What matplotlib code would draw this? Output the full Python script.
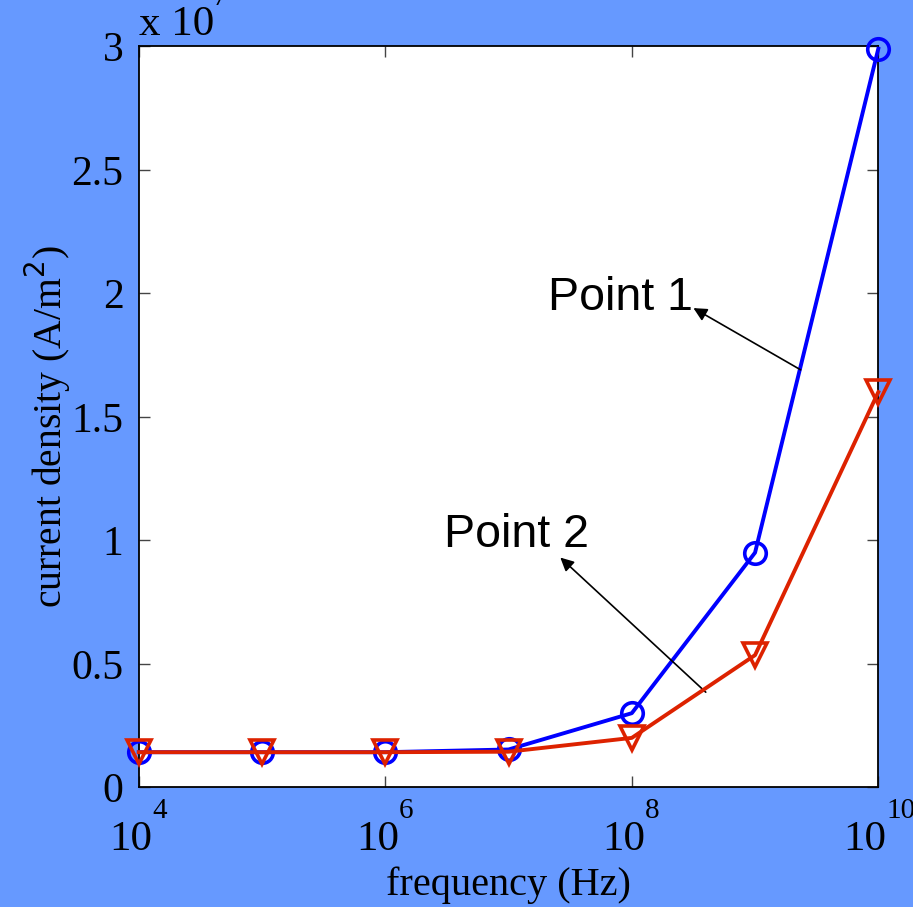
import numpy as np
import matplotlib.pyplot as plt
from matplotlib.ticker import FixedLocator, FuncFormatter, NullLocator, NullFormatter
from matplotlib.transforms import offset_copy

plt.rcParams['font.family'] = 'Liberation Serif'

# dati
freq = [1e4, 1e5, 1e6, 1e7, 1e8, 1e9, 1e10]
point1 = [1.42e6, 1.42e6, 1.42e6, 1.53e6, 3.0e6, 9.5e6, 2.99e7]
point2 = [1.42e6, 1.42e6, 1.42e6, 1.44e6, 2.0e6, 5.35e6, 1.6e7]
xticks = [1e4, 1e6, 1e8, 1e10]
yticks = [0, 0.5e7, 1e7, 1.5e7, 2e7, 2.5e7, 3e7]

BG = '#6699ff'
BLUE = '#0000ff'
RED = '#dd2200'

fig = plt.figure(figsize=(9.13, 9.07), dpi=100, facecolor=BG)
ax = fig.add_axes([0.152, 0.132, 0.810, 0.817])

ax.plot(freq, point1, color=BLUE, lw=2.8, marker='o', ms=15.5, mfc='none',
        mec=BLUE, mew=2.6, clip_on=False, zorder=3)
ax.plot(freq, point2, color=RED, lw=2.8, marker='v', ms=17, mfc='none',
        mec=RED, mew=2.6, clip_on=False, zorder=4)

ax.set_xscale('log')
ax.set_xlim(1e4, 1e10)
ax.set_ylim(0, 3e7)
ax.xaxis.set_major_locator(FixedLocator(xticks))
ax.xaxis.set_minor_locator(NullLocator())
ax.xaxis.set_major_formatter(NullFormatter())
ax.yaxis.set_major_locator(FixedLocator(yticks))
ax.yaxis.set_major_formatter(FuncFormatter(lambda v, p: ('%g' % (v / 1e7))))

ax.tick_params(direction='in', length=8, width=1, color='#444444',
               top=True, right=True, labelsize=30, pad=11)
for s in ax.spines.values():
    s.set_linewidth(1.3)

# etichette 10^n in stile MATLAB (esponente rialzato)
trans = ax.get_xaxis_transform()
for t in xticks:
    esp = str(int(round(np.log10(t))))
    dx = (38 - 11 * len(esp)) / 2
    ax.text(t, 0, '10', fontsize=31, ha='right', va='baseline',
            transform=offset_copy(trans, fig=fig, x=dx, y=-63, units='dots'))
    ax.text(t, 0, esp, fontsize=21, ha='left', va='baseline',
            transform=offset_copy(trans, fig=fig, x=dx, y=-31, units='dots'))

fig.text(508 / 913, 1 - 885 / 907, 'frequency (Hz)', fontsize=29,
         ha='center', va='center')
fig.text(48 / 913, 1 - 427 / 907, r'current density (A/m$^{2}$)', fontsize=28.5,
         ha='center', va='center', rotation=90)

# moltiplicatore dell'asse y
ax.text(0.0, 0, 'x 10', fontsize=31, ha='left', va='baseline',
        transform=offset_copy(ax.transAxes, fig=fig, x=0, y=752, units='dots'))
ax.text(0.0, 0, '7', fontsize=21, ha='left', va='baseline',
        transform=offset_copy(ax.transAxes, fig=fig, x=73, y=782, units='dots'))

arrow = dict(arrowstyle='-|>', color='black', lw=1.2,
             mutation_scale=20, shrinkA=0, shrinkB=0)
ax.annotate('', xy=(10**8.50, 1.94e7), xytext=(10**9.37, 1.69e7),
            arrowprops=arrow)
ax.text(10**7.32, 1.931e7, 'Point 1', fontsize=33.5, family='Liberation Sans',
        ha='left', va='baseline')

ax.annotate('', xy=(10**7.42, 0.93e7), xytext=(10**8.60, 0.385e7),
            arrowprops=arrow)
ax.text(10**6.48, 0.972e7, 'Point 2', fontsize=33.5, family='Liberation Sans',
        ha='left', va='baseline')

plt.savefig('out.png', dpi=100, facecolor=BG)
